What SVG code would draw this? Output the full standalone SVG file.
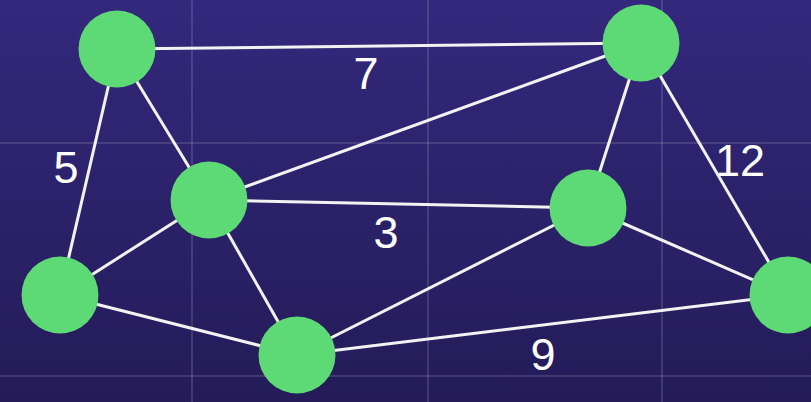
<svg xmlns="http://www.w3.org/2000/svg" width="811" height="402" viewBox="0 0 811 402">
<defs>
<linearGradient id="bg" x1="0" y1="0" x2="0" y2="1">
<stop offset="0" stop-color="#33287c"/>
<stop offset="1" stop-color="#241b58"/>
</linearGradient>
<style>
.grid{stroke:#ffffff;stroke-opacity:0.13;stroke-width:2}
.edge{stroke:#f2f2f2;stroke-width:3;fill:none}
.node{fill:#5dd975}
.lbl{fill:#ffffff;font-family:"Liberation Sans",Arial,sans-serif;font-size:45px;text-anchor:middle}
</style>
</defs>
<rect width="811" height="402" fill="url(#bg)"/>
<g id="grid">
<line class="grid" x1="192" y1="0" x2="192" y2="402"/>
<line class="grid" x1="428" y1="0" x2="428" y2="402"/>
<line class="grid" x1="662" y1="0" x2="662" y2="402"/>
<line class="grid" x1="0" y1="143" x2="811" y2="143"/>
<line class="grid" x1="0" y1="376" x2="811" y2="376"/>
</g>
<g id="connectors">
<line class="edge" x1="117" y1="49" x2="641" y2="43"/>
<line class="edge" x1="117" y1="49" x2="60" y2="295"/>
<line class="edge" x1="117" y1="49" x2="209" y2="200"/>
<line class="edge" x1="209" y1="200" x2="641" y2="43"/>
<line class="edge" x1="209" y1="200" x2="588" y2="208"/>
<line class="edge" x1="209" y1="200" x2="60" y2="295"/>
<line class="edge" x1="209" y1="200" x2="297" y2="355"/>
<line class="edge" x1="60" y1="295" x2="297" y2="355"/>
<line class="edge" x1="297" y1="355" x2="588" y2="208"/>
<line class="edge" x1="297" y1="355" x2="788" y2="295"/>
<line class="edge" x1="641" y1="43" x2="588" y2="208"/>
<line class="edge" x1="641" y1="43" x2="788" y2="295"/>
<line class="edge" x1="588" y1="208" x2="788" y2="295"/>
</g>
<g id="labels">
<text class="lbl" x="366" y="89">7</text>
<text class="lbl" x="66" y="183">5</text>
<text class="lbl" x="386" y="248">3</text>
<text class="lbl" x="740" y="176">12</text>
<text class="lbl" x="543" y="370">9</text>
</g>
<g id="nodeA"><circle class="node" cx="117" cy="49" r="38.5"/></g>
<g id="nodeB"><circle class="node" cx="641" cy="43" r="38.5"/></g>
<g id="nodeC"><circle class="node" cx="209" cy="200" r="38.5"/></g>
<g id="nodeD"><circle class="node" cx="588" cy="208" r="38.5"/></g>
<g id="nodeE"><circle class="node" cx="60" cy="295" r="38.5"/></g>
<g id="nodeF"><circle class="node" cx="297" cy="355" r="38.5"/></g>
<g id="nodeG"><circle class="node" cx="788" cy="295" r="38.5"/></g>
</svg>
